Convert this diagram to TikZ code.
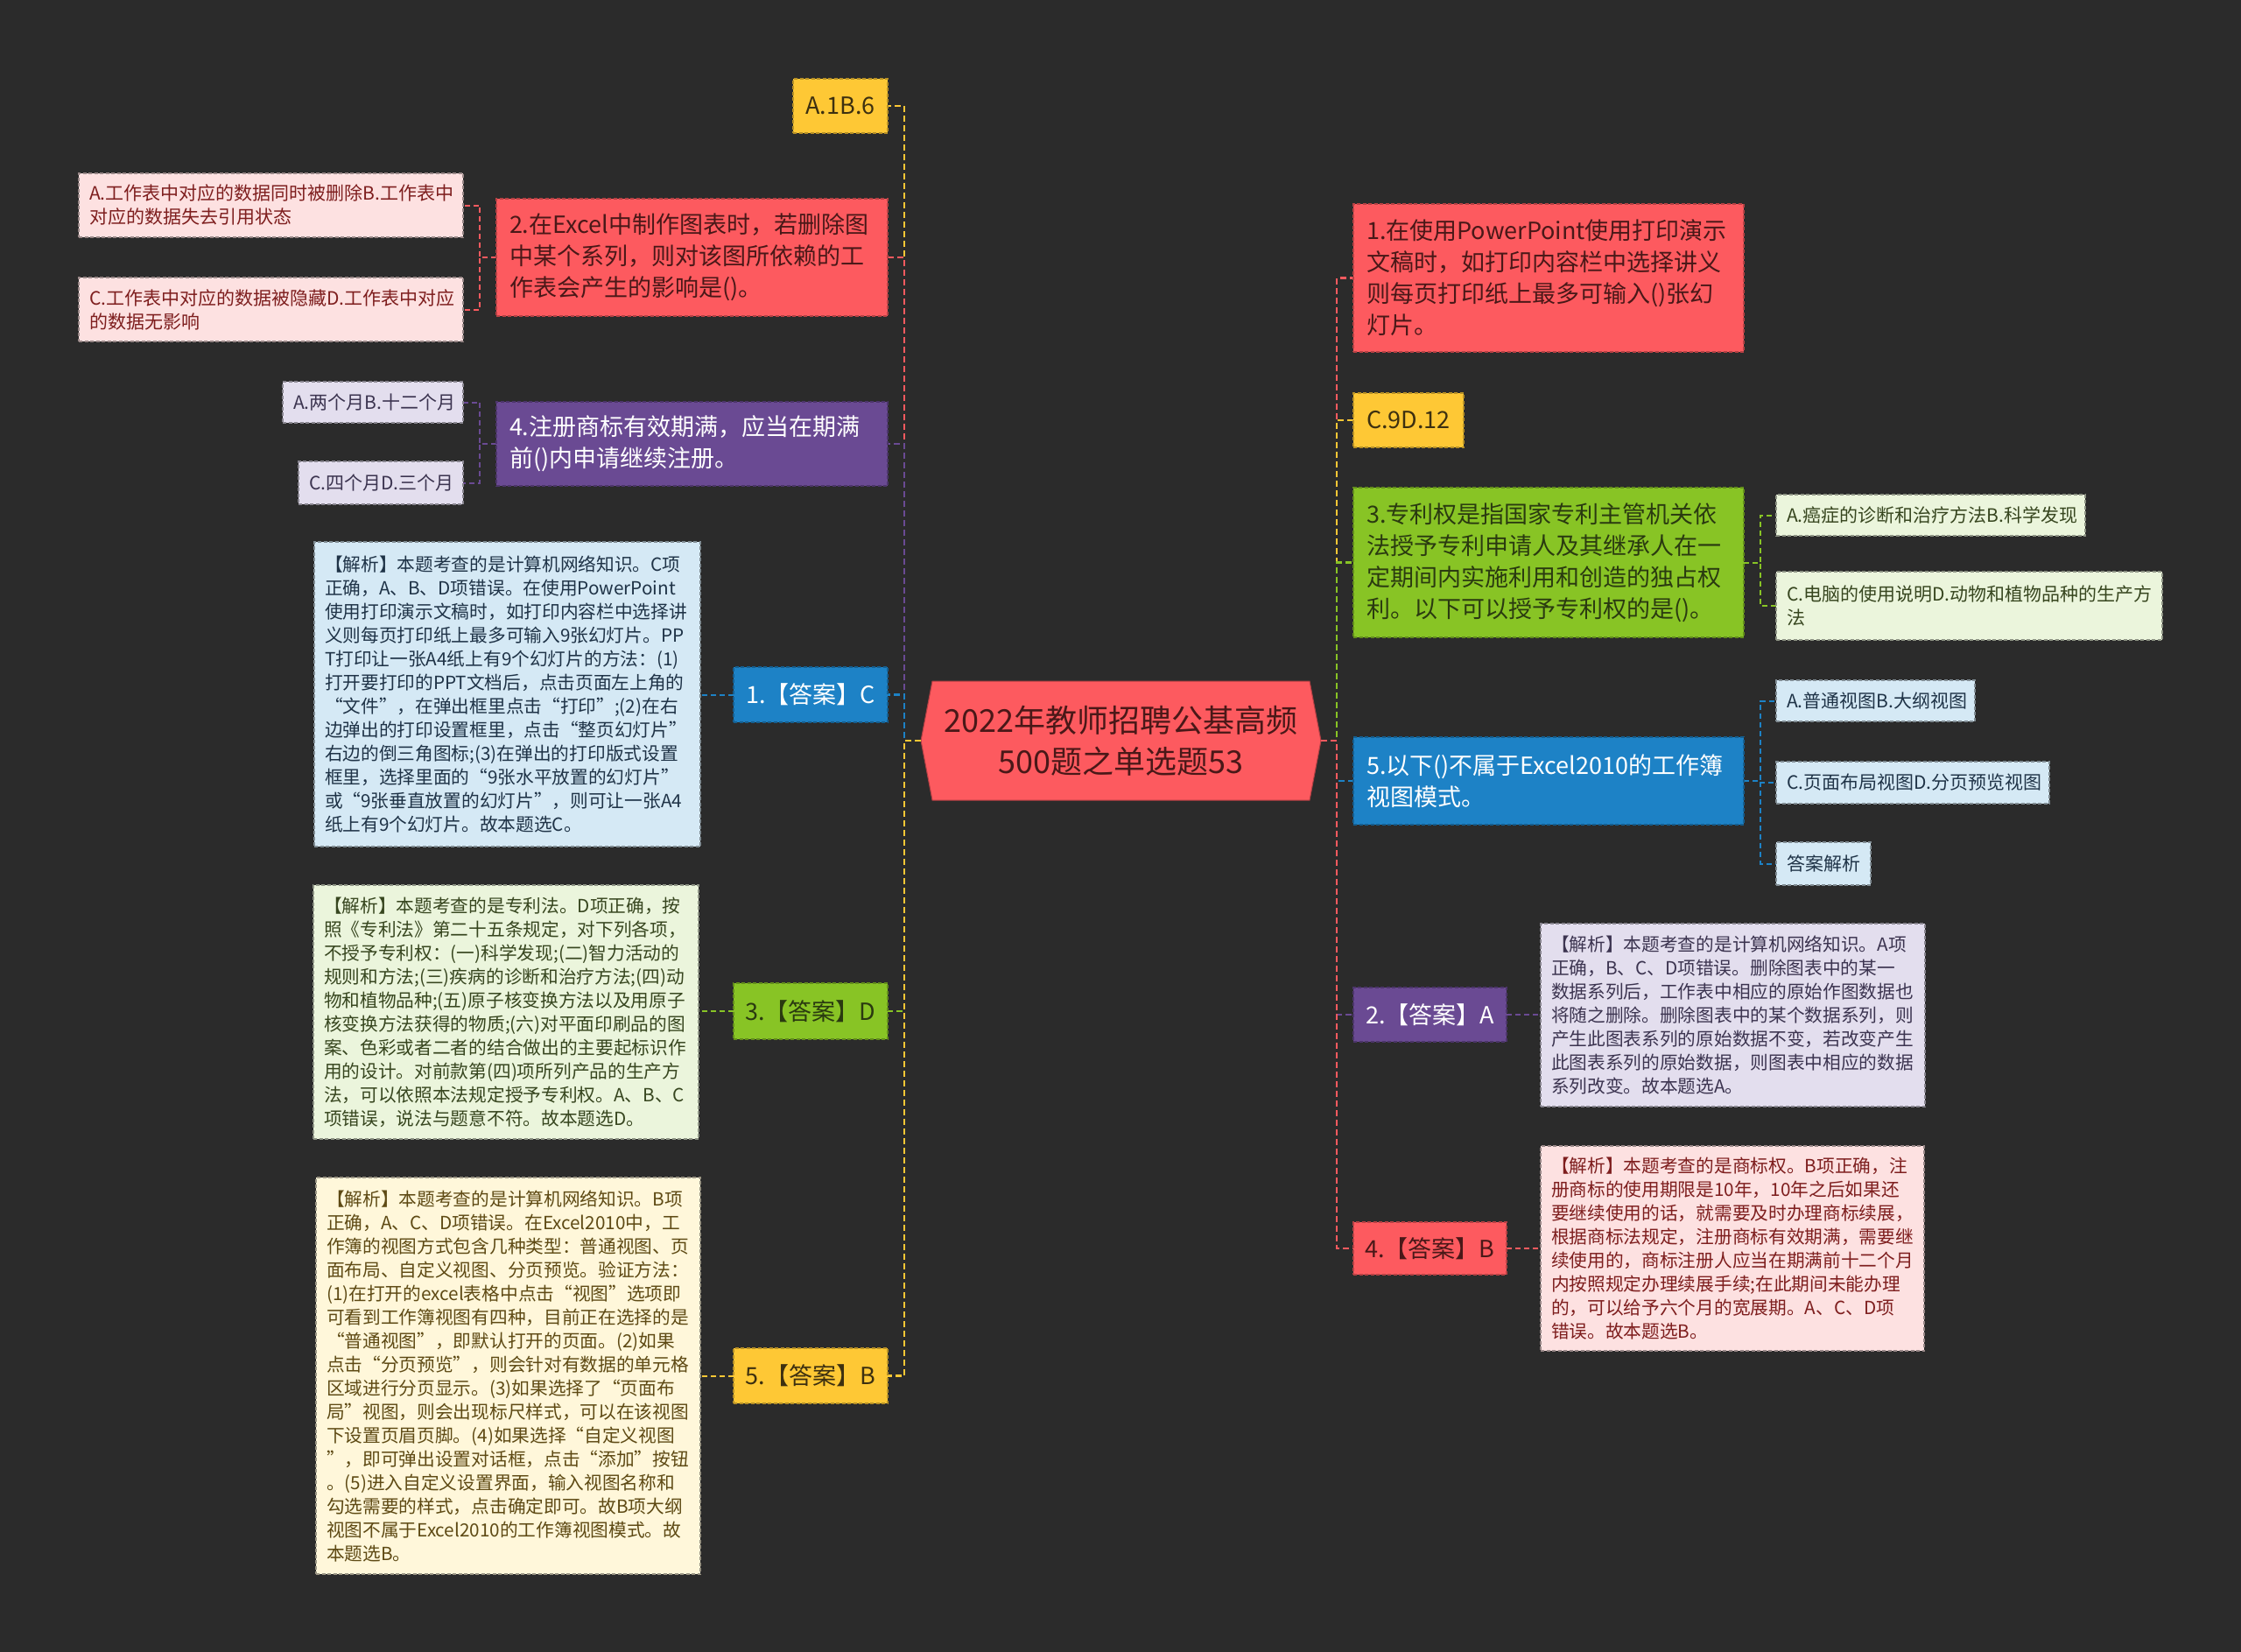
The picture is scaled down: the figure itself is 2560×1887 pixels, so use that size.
\documentclass[tikz,border=0pt]{standalone}
\usepackage{fontspec}
\setmainfont{Noto Sans CJK SC}
\usetikzlibrary{calc}
\pgfdeclarelayer{bglayer}
\pgfsetlayers{bglayer,main}

\definecolor{bgc}{HTML}{2B2B2B}
\definecolor{cred}{HTML}{FD5A5F}
\definecolor{cyel}{HTML}{FEC835}
\definecolor{cpur}{HTML}{6A4A93}
\definecolor{cblu}{HTML}{1D82C6}
\definecolor{cgrn}{HTML}{88C425}
\definecolor{lred}{HTML}{FDE1E1}
\definecolor{lpur}{HTML}{E3DEEE}
\definecolor{lblu}{HTML}{D5E9F5}
\definecolor{lgrn}{HTML}{EBF5DC}
\definecolor{lyel}{HTML}{FFF7DA}
\definecolor{tred}{HTML}{4A1818}
\definecolor{tyel}{HTML}{3D3010}
\definecolor{tgrn}{HTML}{2A3A10}
\definecolor{tlred}{HTML}{7E1E1E}
\definecolor{tlpur}{HTML}{3C3450}
\definecolor{tlblu}{HTML}{1F3347}
\definecolor{tlgrn}{HTML}{37461F}
\definecolor{tlyel}{HTML}{5E4A14}

\tikzset{
  base/.style={anchor=north west, align=left, inner ysep=0pt, outer sep=0pt,
    dash pattern=on 4pt off 2.5pt, line width=1.3pt},
  qbox/.style={base, inner xsep=15pt, font=\fontsize{27}{36}\selectfont},
  abox/.style={base, inner xsep=12pt, align=center, font=\fontsize{27}{36}\selectfont},
  obox/.style={base, inner xsep=12pt, font=\fontsize{21}{27}\selectfont},
  xbox/.style={base, inner xsep=12pt, font=\fontsize{20.7}{27}\selectfont},
  fred/.style={fill=cred, draw=cred!72!black, text=tred},
  fyel/.style={fill=cyel, draw=cyel!72!black, text=tyel},
  fpur/.style={fill=cpur, draw=cpur!72!black, text=white},
  fblu/.style={fill=cblu, draw=cblu!72!black, text=white},
  fgrn/.style={fill=cgrn, draw=cgrn!72!black, text=tgrn},
  flred/.style={fill=lred, draw=lred!60!black, text=tlred},
  flpur/.style={fill=lpur, draw=lpur!60!black, text=tlpur},
  flblu/.style={fill=lblu, draw=lblu!60!black, text=tlblu},
  flgrn/.style={fill=lgrn, draw=lgrn!60!black, text=tlgrn},
  flyel/.style={fill=lyel, draw=lyel!60!black, text=tlyel},
  conn/.style={line width=2.5pt, dash pattern=on 7pt off 4pt},
  sconn/.style={line width=2pt, dash pattern=on 6pt off 4pt},
}

\begin{document}
\begin{tikzpicture}[x=1pt,y=-1pt]
\useasboundingbox (0,0) rectangle (2560,1887);

% centre
\node[outer sep=0pt, minimum width=457pt, minimum height=136pt, inner sep=0pt,
  align=center, text=tred, font=\fontsize{36}{47}\selectfont] (c) at (1280.5,846)
  {2022年教师招聘公基高频\\500题之单选题53};

% left side
\node[abox, fyel, text width=84pt, minimum height=62pt] (la1) at (906,90) {A.1B.6};
\node[qbox, fred, text width=417pt, minimum height=134pt] (q2) at (567,227)
  {2.在Excel中制作图表时，若删除图\\中某个系列，则对该图所依赖的工\\作表会产生的影响是()。};
\node[obox, flred, text width=415pt, minimum height=73pt] (q2a) at (90,198)
  {A.工作表中对应的数据同时被删除B.工作表中\\对应的数据失去引用状态};
\node[obox, flred, text width=415pt, minimum height=73pt] (q2c) at (90,317)
  {C.工作表中对应的数据被隐藏D.工作表中对应\\的数据无影响};
\node[qbox, fpur, text width=417pt, minimum height=96pt] (q4) at (567,459)
  {4.注册商标有效期满，应当在期满\\前()内申请继续注册。};
\node[obox, flpur, text width=182pt, minimum height=47pt] (q4a) at (323,436)
  {A.两个月B.十二个月};
\node[obox, flpur, text width=164pt, minimum height=49pt] (q4c) at (341,527)
  {C.四个月D.三个月};
\node[abox, fblu, text width=152pt, minimum height=63pt] (ans1) at (838,762) {1.【答案】C};
\node[xbox, flblu, text width=417pt, minimum height=348pt] (an1) at (359,619)
  {【解析】本题考查的是计算机网络知识。C项\\
正确，A、B、D项错误。在使用PowerPoint\\
使用打印演示文稿时，如打印内容栏中选择讲\\
义则每页打印纸上最多可输入9张幻灯片。PP\\
T打印让一张A4纸上有9个幻灯片的方法：(1)\\
打开要打印的PPT文档后，点击页面左上角的\\
“文件”，在弹出框里点击“打印”;(2)在右\\
边弹出的打印设置框里，点击“整页幻灯片”\\
右边的倒三角图标;(3)在弹出的打印版式设置\\
框里，选择里面的“9张水平放置的幻灯片”\\
或“9张垂直放置的幻灯片”，则可让一张A4\\
纸上有9个幻灯片。故本题选C。};
\node[abox, fgrn, text width=152pt, minimum height=64pt] (ans3) at (838,1123) {3.【答案】D};
\node[xbox, flgrn, text width=416pt, minimum height=290pt] (an3) at (358,1011)
  {【解析】本题考查的是专利法。D项正确，按\\
照《专利法》第二十五条规定，对下列各项，\\
不授予专利权：(一)科学发现;(二)智力活动的\\
规则和方法;(三)疾病的诊断和治疗方法;(四)动\\
物和植物品种;(五)原子核变换方法以及用原子\\
核变换方法获得的物质;(六)对平面印刷品的图\\
案、色彩或者二者的结合做出的主要起标识作\\
用的设计。对前款第(四)项所列产品的生产方\\
法，可以依照本法规定授予专利权。A、B、C\\
项错误，说法与题意不符。故本题选D。};
\node[abox, fyel, text width=152pt, minimum height=63pt] (ans5) at (838,1540) {5.【答案】B};
\node[xbox, flyel, text width=415pt, minimum height=453pt] (an5) at (361,1345)
  {【解析】本题考查的是计算机网络知识。B项\\
正确，A、C、D项错误。在Excel2010中，工\\
作簿的视图方式包含几种类型：普通视图、页\\
面布局、自定义视图、分页预览。验证方法：\\
(1)在打开的excel表格中点击“视图”选项即\\
可看到工作簿视图有四种，目前正在选择的是\\
“普通视图”，即默认打开的页面。(2)如果\\
点击“分页预览”，则会针对有数据的单元格\\
区域进行分页显示。(3)如果选择了“页面布\\
局”视图，则会出现标尺样式，可以在该视图\\
下设置页眉页脚。(4)如果选择“自定义视图\\
”，即可弹出设置对话框，点击“添加”按钮\\
。(5)进入自定义设置界面，输入视图名称和\\
勾选需要的样式，点击确定即可。故B项大纲\\
视图不属于Excel2010的工作簿视图模式。故\\
本题选B。};

% right side
\node[qbox, fred, text width=416pt, minimum height=169pt] (r1) at (1546,233)
  {1.在使用PowerPoint使用打印演示\\文稿时，如打印内容栏中选择讲义\\则每页打印纸上最多可输入()张幻\\灯片。};
\node[abox, fyel, text width=102pt, minimum height=62pt] (rc9) at (1546,449) {C.9D.12};
\node[qbox, fgrn, text width=416pt, minimum height=171pt] (r3) at (1546,557)
  {3.专利权是指国家专利主管机关依\\法授予专利申请人及其继承人在一\\定期间内实施利用和创造的独占权\\利。以下可以授予专利权的是()。};
\node[obox, flgrn, text width=329pt, minimum height=47pt] (r3a) at (2029,565)
  {A.癌症的诊断和治疗方法B.科学发现};
\node[obox, flgrn, text width=417pt, minimum height=78pt] (r3c) at (2029,653)
  {C.电脑的使用说明D.动物和植物品种的生产方\\法};
\node[qbox, fblu, text width=416pt, minimum height=100pt] (r5) at (1546,842)
  {5.以下()不属于Excel2010的工作簿\\视图模式。};
\node[obox, flblu, text width=203pt, minimum height=47pt] (r5a) at (2029,777)
  {A.普通视图B.大纲视图};
\node[obox, flblu, text width=288pt, minimum height=48pt] (r5c) at (2029,870)
  {C.页面布局视图D.分页预览视图};
\node[obox, flblu, text width=84pt, minimum height=49pt] (r5d) at (2029,962)
  {答案解析};
\node[abox, fpur, text width=151pt, minimum height=62pt] (ra2) at (1546,1128) {2.【答案】A};
\node[xbox, flpur, text width=415pt, minimum height=209pt] (an2) at (1760,1055)
  {【解析】本题考查的是计算机网络知识。A项\\
正确，B、C、D项错误。删除图表中的某一\\
数据系列后，工作表中相应的原始作图数据也\\
将随之删除。删除图表中的某个数据系列，则\\
产生此图表系列的原始数据不变，若改变产生\\
此图表系列的原始数据，则图表中相应的数据\\
系列改变。故本题选A。};
\node[abox, fred, text width=151pt, minimum height=60pt] (ra4) at (1546,1396) {4.【答案】B};
\node[xbox, flred, text width=414pt, minimum height=234pt] (an4) at (1760,1309)
  {【解析】本题考查的是商标权。B项正确，注\\
册商标的使用期限是10年，10年之后如果还\\
要继续使用的话，就需要及时办理商标续展，\\
根据商标法规定，注册商标有效期满，需要继\\
续使用的，商标注册人应当在期满前十二个月\\
内按照规定办理续展手续;在此期间未能办理\\
的，可以给予六个月的宽展期。A、C、D项\\
错误。故本题选B。};

\begin{pgfonlayer}{bglayer}
\fill[bgc] (0,0) rectangle (2560,1887);
% centre hexagon
\filldraw[fill=cred, draw=cred!70!black, line width=1pt]
  ($(c.north west)+(13,0)$) -- ($(c.north east)+(-13,0)$) -- (c.east)
  -- ($(c.south east)+(-13,0)$) -- ($(c.south west)+(13,0)$) -- (c.west) -- cycle;
\coordinate (lt) at (1033,846);
\coordinate (rt) at (1527,846);
% left trunk
\draw[conn, cyel] (c.west) -- (lt) |- (la1.east);
\draw[conn, cred] (c.west) -- (lt) |- (q2.east);
\draw[conn, cpur] (c.west) -- (lt) |- (q4.east);
\draw[conn, cblu] (c.west) -- (lt) |- (ans1.east);
\draw[conn, cgrn] (c.west) -- (lt) |- (ans3.east);
\draw[conn, cyel] (c.west) -- (lt) |- (ans5.east);
% right trunk
\draw[conn, cred] (c.east) -- (rt) |- (r1.west);
\draw[conn, cyel] (c.east) -- (rt) |- (rc9.west);
\draw[conn, cgrn] (c.east) -- (rt) |- (r3.west);
\draw[conn, cblu] (c.east) -- (rt) |- (r5.west);
\draw[conn, cpur] (c.east) -- (rt) |- (ra2.west);
\draw[conn, cred] (c.east) -- (rt) |- (ra4.west);
% sub branches
\draw[sconn, cred] (q2.west) -- ++(-19,0) |- (q2a.east);
\draw[sconn, cred] (q2.west) -- ++(-19,0) |- (q2c.east);
\draw[sconn, cpur] (q4.west) -- ++(-19,0) |- (q4a.east);
\draw[sconn, cpur] (q4.west) -- ++(-19,0) |- (q4c.east);
\draw[sconn, cblu] (ans1.west) -- (ans1.west -| an1.east);
\draw[sconn, cgrn] (ans3.west) -- (ans3.west -| an3.east);
\draw[sconn, cyel] (ans5.west) -- (ans5.west -| an5.east);
\draw[sconn, cgrn] (r3.east) -- ++(19,0) |- (r3a.west);
\draw[sconn, cgrn] (r3.east) -- ++(19,0) |- (r3c.west);
\draw[sconn, cblu] (r5.east) -- ++(19,0) |- (r5a.west);
\draw[sconn, cblu] (r5.east) -- ++(19,0) |- (r5c.west);
\draw[sconn, cblu] (r5.east) -- ++(19,0) |- (r5d.west);
\draw[sconn, cpur] (ra2.east) -- (ra2.east -| an2.west);
\draw[sconn, cred] (ra4.east) -- (ra4.east -| an4.west);
\end{pgfonlayer}
\end{tikzpicture}
\end{document}
